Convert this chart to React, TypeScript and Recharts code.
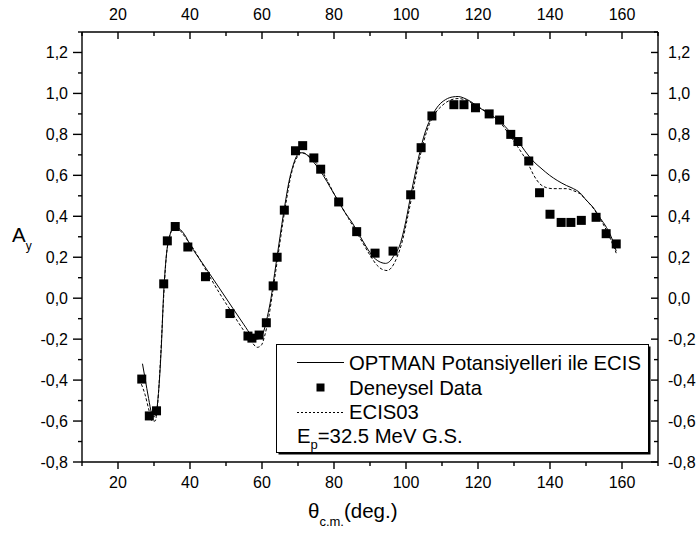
import React from 'react';
import { ComposedChart, Line, Scatter, XAxis, YAxis } from 'recharts';

// ---------- data ----------
const expTheta = [26.6, 28.7, 30.7, 32.7, 33.7, 35.9, 39.4, 44.3, 51.1, 56.1, 57.2, 59.2, 61.2, 63.1, 64.2, 66.2, 69.3, 71.3, 74.4, 76.3, 81.3, 86.3, 91.4, 96.4, 101.3, 104.2, 107.2, 113.3, 116.1, 119.3, 123.1, 126.0, 129.1, 131.1, 134.1, 137.1, 140.0, 143.1, 145.8, 148.7, 152.8, 155.6, 158.4];
const expAy = [-0.395, -0.575, -0.55, 0.07, 0.28, 0.35, 0.25, 0.105, -0.075, -0.185, -0.195, -0.18, -0.12, 0.06, 0.2, 0.43, 0.72, 0.745, 0.685, 0.63, 0.47, 0.325, 0.22, 0.23, 0.505, 0.735, 0.89, 0.945, 0.945, 0.93, 0.9, 0.87, 0.8, 0.765, 0.67, 0.515, 0.41, 0.37, 0.37, 0.38, 0.395, 0.315, 0.265];

const optmanTheta = [26.8, 27.5, 28.5, 29.3, 30.0, 30.7, 31.3, 32.0, 32.7, 33.5, 34.3, 35.2, 36.0, 37.0, 38.5, 40, 44, 48, 52, 55, 57, 58.3, 59.5, 60.5, 61.5, 62.5, 63.5, 64.5, 65.5, 66.5, 67.5, 68.5, 69.5, 70.5, 71.5, 73, 75, 77, 79, 81, 83, 85, 87, 89, 91, 93, 94.3, 95.5, 96.7, 98.3, 100, 101.3, 102.7, 104.2, 105.5, 107.2, 109, 111, 113, 114.5, 116, 118, 120, 123, 126, 129, 131, 133, 135.3, 137.5, 139.9, 142, 144.6, 146.5, 148.3, 150, 151.9, 154, 155.7, 157, 158.4];
const optmanAy = [-0.32, -0.39, -0.49, -0.56, -0.58, -0.55, -0.45, -0.25, 0.03, 0.22, 0.3, 0.34, 0.35, 0.34, 0.31, 0.262, 0.157, 0.053, -0.052, -0.13, -0.18, -0.2, -0.195, -0.16, -0.09, 0.0, 0.12, 0.24, 0.36, 0.47, 0.57, 0.64, 0.69, 0.71, 0.71, 0.69, 0.65, 0.6, 0.54, 0.48, 0.42, 0.37, 0.31, 0.25, 0.2, 0.175, 0.17, 0.18, 0.21, 0.26, 0.38, 0.5, 0.62, 0.74, 0.82, 0.89, 0.94, 0.97, 0.983, 0.985, 0.978, 0.96, 0.935, 0.9, 0.865, 0.81, 0.77, 0.72, 0.67, 0.635, 0.6, 0.575, 0.55, 0.535, 0.515, 0.48, 0.445, 0.39, 0.345, 0.3, 0.23];

const ecisTheta = [26.5, 27.5, 28.5, 29.5, 30.3, 31.0, 31.8, 32.6, 33.4, 34.3, 35.3, 36.3, 37.3, 39, 41, 44, 48, 52, 55, 57, 58.7, 59.8, 60.8, 61.8, 62.8, 63.8, 64.8, 65.8, 66.8, 67.8, 68.8, 69.8, 70.8, 72, 74, 76, 78, 80, 82, 84, 86, 88, 90, 92, 93.5, 94.8, 96, 97.5, 99, 100.5, 102, 103.5, 105, 106.5, 108, 110, 112, 114.5, 117, 119, 121, 124, 127, 129, 131, 132.5, 134.1, 135.5, 137.1, 139, 140.8, 143, 144.6, 146.5, 148.3, 150, 152, 154, 156, 158.4];
const ecisAy = [-0.42, -0.47, -0.54, -0.6, -0.6, -0.52, -0.3, -0.02, 0.2, 0.3, 0.34, 0.35, 0.33, 0.29, 0.24, 0.15, 0.03, -0.08, -0.16, -0.21, -0.24, -0.23, -0.18, -0.1, 0.01, 0.13, 0.25, 0.37, 0.48, 0.58, 0.65, 0.69, 0.71, 0.705, 0.68, 0.64, 0.58, 0.51, 0.45, 0.39, 0.33, 0.27, 0.21, 0.16, 0.14, 0.135, 0.15, 0.2, 0.28, 0.4, 0.53, 0.66, 0.77, 0.85, 0.9, 0.94, 0.965, 0.975, 0.965, 0.945, 0.925, 0.89, 0.84, 0.79, 0.74, 0.7, 0.65, 0.6, 0.56, 0.54, 0.535, 0.535, 0.535, 0.525, 0.51, 0.48, 0.44, 0.385, 0.32, 0.22];

const xTicks = [10, 20, 30, 40, 50, 60, 70, 80, 90, 100, 110, 120, 130, 140, 150, 160, 170];
const yTicks = [-0.8, -0.7, -0.6, -0.5, -0.4, -0.3, -0.2, -0.1, 0.0, 0.1, 0.2, 0.3, 0.4, 0.5, 0.6, 0.7, 0.8, 0.9, 1.0, 1.1, 1.2, 1.3];

const legendLabels = ['OPTMAN Potansiyelleri ile ECIS', 'Deneysel Data', 'ECIS03'];
const energyLabel = { main: 'E', sub: 'p', rest: '=32.5 MeV G.S.' };
const xTitle = { main: 'θ', sub: 'c.m.', rest: '(deg.)' };
const yTitle = { main: 'A', sub: 'y' };

const zip = (xs: number[], ys: number[]) => xs.map((x, i) => ({ x, y: ys[i] }));
const expData = zip(expTheta, expAy);
const optmanData = zip(optmanTheta, optmanAy);
const ecisData = zip(ecisTheta, ecisAy);

// ---------- styling ----------
const FONT = "'Liberation Sans', Arial, Helvetica, sans-serif";
const TICK_FS = 16;
const AX_SW = 1.4;
const MAJ = 7;
const MIN = 4;

const isMajorX = (v: number) => Math.round(v) % 20 === 0;
const isMajorY = (v: number) => Math.round(v * 10) % 2 === 0;
const fmtY = (v: number) => (Math.round(v * 10) / 10).toFixed(1).replace('.', ',');

const BottomTick = (p: any) => {
  const { x, y, payload } = p;
  const maj = isMajorX(payload.value);
  return (
    <g>
      <line x1={x} x2={x} y1={y} y2={y + (maj ? MAJ : MIN)} stroke="#000" strokeWidth={AX_SW} />
      {maj && payload.value > 10 && payload.value < 170 && (
        <text x={x} y={y + 26} textAnchor="middle" fontSize={TICK_FS} fontFamily={FONT} fill="#000">{payload.value}</text>
      )}
    </g>
  );
};
const TopTick = (p: any) => {
  const { x, y, payload } = p;
  const maj = isMajorX(payload.value);
  return (
    <g>
      <line x1={x} x2={x} y1={y} y2={y + (maj ? MAJ : MIN)} stroke="#000" strokeWidth={AX_SW} />
      {maj && payload.value > 10 && payload.value < 170 && (
        <text x={x} y={y - 12} textAnchor="middle" fontSize={TICK_FS} fontFamily={FONT} fill="#000">{payload.value}</text>
      )}
    </g>
  );
};
const LeftTick = (p: any) => {
  const { x, y, payload } = p;
  const maj = isMajorY(payload.value);
  return (
    <g>
      <line x1={x} x2={x - (maj ? 9 : MIN)} y1={y} y2={y} stroke="#000" strokeWidth={AX_SW} />
      {maj && payload.value < 1.25 && (
        <text x={x - 14} y={y} dy="0.36em" textAnchor="end" fontSize={TICK_FS} fontFamily={FONT} fill="#000">{fmtY(payload.value)}</text>
      )}
    </g>
  );
};
const RightTick = (p: any) => {
  const { x, y, payload } = p;
  const maj = isMajorY(payload.value);
  return (
    <g>
      <line x1={x} x2={x - (maj ? MAJ : MIN)} y1={y} y2={y} stroke="#000" strokeWidth={AX_SW} />
      {maj && payload.value < 1.25 && (
        <text x={x + 10} y={y} dy="0.36em" textAnchor="start" fontSize={TICK_FS} fontFamily={FONT} fill="#000">{fmtY(payload.value)}</text>
      )}
    </g>
  );
};

const Square = (p: any) => {
  const { cx, cy } = p;
  if (cx == null || cy == null) return null;
  return <rect x={cx - 4.5} y={cy - 4.5} width={9} height={9} fill="#000" />;
};

const XTitle = () => (
  <text x={308} y={518} fontSize={20.5} fontFamily={FONT} fill="#000">
    {xTitle.main}
    <tspan fontSize={13} dy={8}>{xTitle.sub}</tspan>
    <tspan fontSize={20.5} dy={-8}>{xTitle.rest}</tspan>
  </text>
);
const YTitle = () => (
  <text x={12} y={242} fontSize={20.5} fontFamily={FONT} fill="#000">
    {yTitle.main}
    <tspan fontSize={12} dy={8}>{yTitle.sub}</tspan>
  </text>
);

const LegendBox = () => (
  <svg width={698} height={533} style={{ position: 'absolute', left: 0, top: 0, pointerEvents: 'none' }}>
    <rect x={278.5} y={346.5} width={372} height={108} fill="#000" />
    <rect x={276.5} y={344.5} width={372} height={108} fill="#fff" stroke="#000" strokeWidth={1} />
    <line x1={297} x2={344} y1={362.5} y2={362.5} stroke="#000" strokeWidth={1} />
    <text x={349} y={369.5} fontSize={20.3} fontFamily={FONT} fill="#000">{legendLabels[0]}</text>
    <rect x={316.5} y={383.5} width={8} height={8} fill="#000" />
    <text x={349} y={395} fontSize={20.3} fontFamily={FONT} fill="#000">{legendLabels[1]}</text>
    <line x1={297} x2={344} y1={412.5} y2={412.5} stroke="#000" strokeWidth={1} strokeDasharray="2 2" />
    <text x={349} y={418.5} fontSize={20.3} fontFamily={FONT} fill="#000">{legendLabels[2]}</text>
    <text x={297} y={443} fontSize={20.3} fontFamily={FONT} fill="#000">
      {energyLabel.main}
      <tspan fontSize={13} dy={6}>{energyLabel.sub}</tspan>
      <tspan fontSize={20.3} dy={-6}>{energyLabel.rest}</tspan>
    </text>
  </svg>
);

export default function App() {
  return (
    <div style={{ position: 'absolute', left: 0, top: 0, width: 698, height: 533, background: '#fff' }}>
      <ComposedChart width={698} height={533} margin={{ top: 8, right: 8, bottom: 11, left: 8 }}>
        <XAxis xAxisId="b" dataKey="x" type="number" domain={[10, 170]} allowDataOverflow ticks={xTicks} interval={0}
          orientation="bottom" height={60} tickSize={0} tickMargin={0} tickLine={false}
          axisLine={{ stroke: '#000', strokeWidth: AX_SW }} tick={<BottomTick />} label={<XTitle />} />
        <XAxis xAxisId="t" dataKey="x" type="number" domain={[10, 170]} allowDataOverflow ticks={xTicks} interval={0}
          orientation="top" height={24} tickSize={0} tickMargin={0} tickLine={false}
          axisLine={{ stroke: '#000', strokeWidth: AX_SW }} tick={<TopTick />} />
        <YAxis yAxisId="l" dataKey="y" type="number" domain={[-0.8, 1.3]} allowDataOverflow ticks={yTicks} interval={0}
          orientation="left" width={74} tickSize={0} tickMargin={0} tickLine={false}
          axisLine={{ stroke: '#000', strokeWidth: AX_SW }} tick={<LeftTick />} label={<YTitle />} />
        <YAxis yAxisId="r" dataKey="y" type="number" domain={[-0.8, 1.3]} allowDataOverflow ticks={yTicks} interval={0}
          orientation="right" width={32} tickSize={0} tickMargin={0} tickLine={false}
          axisLine={{ stroke: '#000', strokeWidth: AX_SW }} tick={<RightTick />} />
        <Line xAxisId="b" yAxisId="l" data={optmanData} dataKey="y" type="monotone" stroke="#000" strokeWidth={1}
          dot={false} activeDot={false} isAnimationActive={false} />
        <Line xAxisId="b" yAxisId="l" data={ecisData} dataKey="y" type="monotone" stroke="#000" strokeWidth={1}
          strokeDasharray="3 2" dot={false} activeDot={false} isAnimationActive={false} />
        <Scatter xAxisId="b" yAxisId="l" data={expData} dataKey="y" fill="#000" shape={<Square />} isAnimationActive={false} />
      </ComposedChart>
      <LegendBox />
    </div>
  );
}
